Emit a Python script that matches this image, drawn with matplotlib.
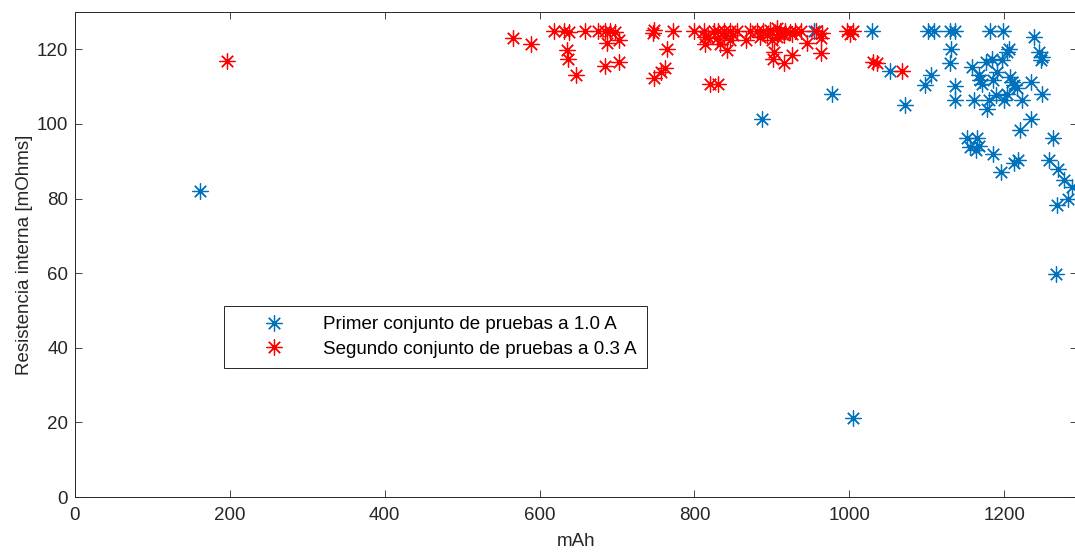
import matplotlib.pyplot as plt

plt.rcParams['font.family'] = ['Liberation Sans', 'DejaVu Sans']

# Primer conjunto (1.0 A): capacidad [mAh] y resistencia interna [mOhms]
mah_1a = [161, 887, 978, 955, 1005, 1029, 1052, 1072, 1098, 1105,
          1102, 1109, 1130, 1137, 1131, 1130, 1136, 1137, 1182, 1199,
          1238, 1206, 1204, 1245, 1249, 1247, 1158, 1176, 1184, 1197,
          1167, 1169, 1171, 1186, 1191, 1208, 1210, 1212, 1234, 1249,
          1223, 1204, 1189, 1178, 1180, 1161, 1216, 1200, 1234, 1221,
          1263, 1152, 1165, 1156, 1163, 1167, 1186, 1212, 1218, 1196,
          1258, 1269, 1277, 1288, 1282, 1268, 1267]
res_1a = [82, 101.2, 108.1, 125, 21.2, 125, 114.2, 105.2, 110.4, 113.2,
          125, 125, 125, 125, 120.2, 116.2, 110.1, 106.5, 125, 125,
          123.3, 120.2, 119.3, 119.3, 118, 117.2, 115.3, 116.6, 117.5, 117.1,
          113.1, 111.7, 110.8, 111.7, 113.9, 112.6, 111.3, 110.4, 111.3, 108.1,
          106.3, 108.1, 107.7, 104.1, 106.5, 106.3, 109.6, 106.5, 101.4, 98.3,
          96.3, 96.3, 96.3, 93.8, 92.9, 94.2, 92, 89.4, 90.3, 87.2,
          90.3, 88, 84.9, 83.1, 80, 78.2, 59.9]

# Segundo conjunto (0.3 A)
mah_03a = [196, 565, 589, 619, 631, 638, 636, 637, 647, 658,
           675, 685, 691, 687, 698, 703, 685, 702, 746, 748,
           772, 764, 762, 757, 748, 800, 812, 814, 813, 820,
           831, 825, 831, 838, 846, 855, 829, 838, 846, 833,
           842, 818, 850, 866, 872, 881, 889, 898, 907, 911,
           917, 924, 930, 937, 885, 894, 907, 915, 926, 900,
           908, 903, 902, 915, 926, 945, 957, 963, 963, 965,
           997, 1001, 1005, 1031, 1036, 1068]
res_03a = [117, 123, 121.5, 125, 125, 124.6, 119.7, 117.5, 113, 125,
           125, 125, 125, 121.7, 124.6, 122.6, 115.5, 116.6, 124.4, 125.3,
           125, 120, 115, 114, 112.4, 125, 125, 121.5, 123.3, 110.6,
           110.6, 125, 125, 125, 125, 125, 122.9, 123.5, 122.4, 121.5,
           119.9, 123.3, 123.8, 122.6, 125, 125, 124.9, 125.3, 125.6, 124.9,
           125, 124.6, 125, 125, 123.3, 123.8, 123.3, 123.8, 124.2, 122.4,
           124.2, 119.3, 117.5, 116.3, 118.4, 121.7, 124.9, 122.9, 119, 124.4,
           124.9, 124.2, 124.9, 116.6, 116.2, 114.2]

x_ticks = [0, 200, 400, 600, 800, 1000, 1200]
y_ticks = [0, 20, 40, 60, 80, 100, 120]

fig = plt.figure(figsize=(10.75, 5.52), dpi=100)
ax = fig.add_axes([75 / 1075, 55 / 552, 1002 / 1075, 485 / 552])

star = (8, 2, 0)  # asterisco de 8 brazos
ax.plot(mah_1a, res_1a, linestyle='none', marker=star, markersize=11.5,
        markeredgewidth=0.9, color='#0072BD',
        label='Primer conjunto de pruebas a 1.0 A')
ax.plot(mah_03a, res_03a, linestyle='none', marker=star, markersize=11.5,
        markeredgewidth=0.9, color='#FF0000',
        label='Segundo conjunto de pruebas a 0.3 A')

ax.set_xlim(0, 1294)
ax.set_ylim(0, 130)
ax.set_xticks(x_ticks)
ax.set_yticks(y_ticks)
ax.tick_params(direction='in', length=5, width=0.6, colors='#262626',
               labelsize=13.5, top=True, right=True)
ax.tick_params(axis='x', pad=7)
ax.tick_params(axis='y', pad=5)
for s in ax.spines.values():
    s.set_color('#262626')
    s.set_linewidth(0.7)

ax.set_xlabel('mAh', fontsize=13.5, color='#262626', labelpad=7)
ax.set_ylabel('Resistencia interna [mOhms]', fontsize=13.5, color='#262626',
              labelpad=3)

leg = ax.legend(loc='upper left', bbox_to_anchor=(0.149, 0.394),
                borderaxespad=0, fontsize=13.5, fancybox=False,
                edgecolor='#262626', framealpha=1, handlelength=4.2,
                handletextpad=0.5, borderpad=0.55, labelspacing=0.4)
leg.get_frame().set_linewidth(0.7)

fig.savefig('out.png', dpi=100)
